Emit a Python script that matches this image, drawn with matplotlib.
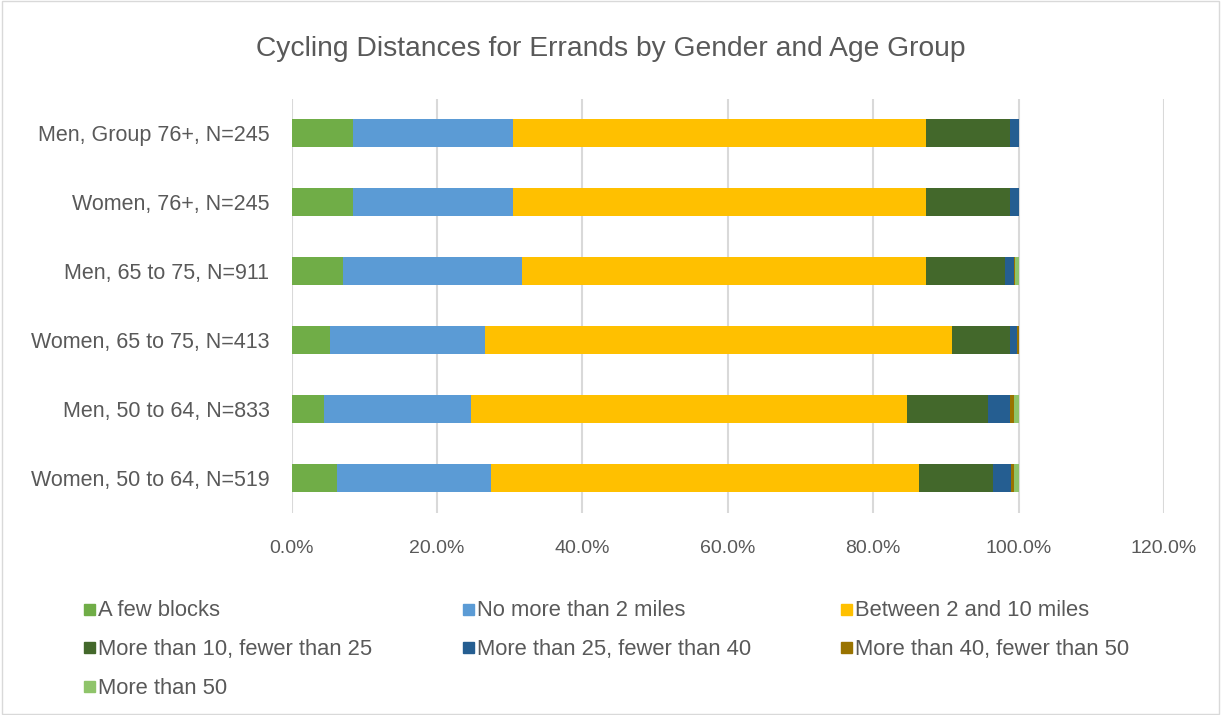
import matplotlib
matplotlib.use("Agg")
import matplotlib.pyplot as plt
from matplotlib.ticker import PercentFormatter
from matplotlib.patches import Rectangle
import numpy as np

# data (percent), rows listed top to bottom
categories = ["Men, Group 76+, N=245", "Women, 76+, N=245", "Men, 65 to 75, N=911",
              "Women, 65 to 75, N=413", "Men, 50 to 64, N=833", "Women, 50 to 64, N=519"]
series_names = ["A few blocks", "No more than 2 miles", "Between 2 and 10 miles",
                "More than 10, fewer than 25", "More than 25, fewer than 40",
                "More than 40, fewer than 50", "More than 50"]
few_blocks = [8.5, 8.5, 7.1, 5.3, 4.4, 6.3]
upto_2 = [22.0, 22.0, 24.6, 21.3, 20.3, 21.1]
from_2_to_10 = [56.8, 56.8, 55.5, 64.2, 60.0, 58.9]
from_10_to_25 = [11.5, 11.5, 10.9, 8.0, 11.1, 10.2]
from_25_to_40 = [1.2, 1.2, 1.2, 1.0, 3.0, 2.5]
from_40_to_50 = [0.0, 0.0, 0.2, 0.2, 0.6, 0.4]
over_50 = [0.0, 0.0, 0.5, 0.0, 0.6, 0.6]
colors = ["#70AD47", "#5B9BD5", "#FFC000", "#43682B", "#255E91", "#997300", "#8FC46A"]

all_series = [few_blocks, upto_2, from_2_to_10, from_10_to_25, from_25_to_40, from_40_to_50, over_50]

plt.rcParams['font.family'] = ['Liberation Sans', 'DejaVu Sans']
txt = "#595959"

fig = plt.figure(figsize=(12.21, 7.15), dpi=100)
ax = fig.add_axes([0.2389, 0.2832, 0.7145, 0.579])

y = np.arange(len(categories))
left = np.zeros(len(categories))
for vals, name, c in zip(all_series, series_names, colors):
    v = np.array(vals) / 100.0
    ax.barh(y, v, left=left, height=0.41, color=c, label=name, zorder=3)
    left += v

ax.set_ylim(len(categories) - 0.5, -0.5)
ax.set_yticks(y)
ax.set_yticklabels(categories)
ax.set_xlim(0, 1.2)
ax.set_xticks(np.arange(0, 1.21, 0.2))
ax.xaxis.set_major_formatter(PercentFormatter(xmax=1, decimals=1))
ax.grid(axis='x', color='#D9D9D9', linewidth=1.5, zorder=0)
for s in ax.spines.values():
    s.set_visible(False)
ax.tick_params(axis='both', length=0, colors=txt)
ax.tick_params(axis='y', pad=16, labelsize=15.5)
ax.tick_params(axis='x', pad=20, labelsize=14)

fig.text(0.5, 0.932, "Cycling Distances for Errands by Gender and Age Group",
         ha='center', va='center', fontsize=20.3, color=txt)

# legend laid out like the original (row-major, 3 columns)
col_x = [84, 463, 841]
row_y = [610, 648, 687]
W, H = 1221.0, 715.0
for i, (name, c) in enumerate(zip(series_names, colors)):
    cx = col_x[i % 3]
    cy = row_y[i // 3]
    fig.patches.append(Rectangle((cx / W, 1 - (cy + 5) / H), 11 / W, 11 / H,
                                 transform=fig.transFigure, color=c))
    fig.text((cx + 14) / W, 1 - (cy + 1) / H, name, ha='left', va='center',
             fontsize=15.8, color=txt)

# chart border
fig.patches.append(Rectangle((0.002, 0.002), 0.996, 0.996, transform=fig.transFigure,
                             fill=False, edgecolor='#D9D9D9', linewidth=1))

fig.savefig("out.png", dpi=100)
